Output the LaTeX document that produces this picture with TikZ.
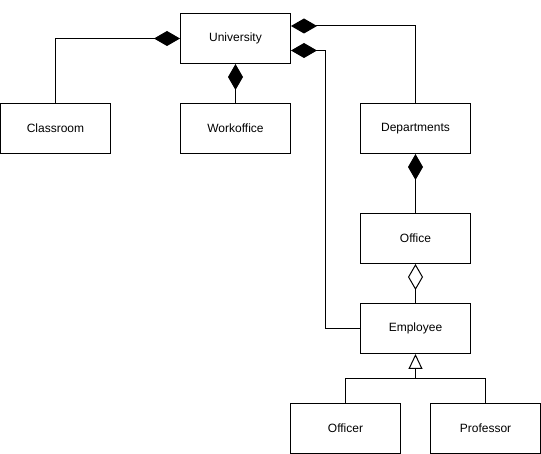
\documentclass[tikz,border=0pt]{standalone}
\usepackage{fontspec}
\setmainfont{Liberation Sans}
\usetikzlibrary{arrows.meta}

\begin{document}
\begin{tikzpicture}[x=1pt,y=-1pt,
  cls/.style={draw, line width=1pt, rectangle, minimum width=110pt, minimum height=50pt, inner sep=0pt, font=\fontsize{12}{14}\selectfont},
  link/.style={line width=1pt},
  comp/.style={link, -{Diamond[length=26pt,width=15pt]}},
  compr/.style={link, {Diamond[length=26pt,width=15pt]}-},
  aggr/.style={link, {Diamond[open,length=26pt,width=15pt,fill=white]}-},
  gen/.style={link, -{Triangle[open,length=15pt,width=14pt,fill=white]}}]
\useasboundingbox (0,0) rectangle (541,454);

\node[cls] (university) at (235.5,38.5) {University};
\node[cls] (classroom) at (55.5,128.5) {Classroom};
\node[cls] (workoffice) at (235.5,128.5) {Workoffice};
\node[cls] (departments) at (415.5,128.5) {Departments};
\node[cls] (office) at (415.5,238.5) {Office};
\node[cls] (employee) at (415.5,328.5) {Employee};
\node[cls] (officer) at (345.5,428.5) {Officer};
\node[cls] (professor) at (485.5,428.5) {Professor};

\coordinate (bend) at (325.5,50.5);
\coordinate (join) at (415.5,378.5);

\draw[comp] (classroom.north) |- (university.west);
\draw[comp] (workoffice.north) -- (university.south);
\draw[comp] (departments.north) |- ([yshift=12.5pt]university.east);
\draw[comp] (employee.west) -| (bend) -- ([yshift=-12pt]university.east);
\draw[compr] (departments.south) -- (office.north);
\draw[aggr] (office.south) -- (employee.north);

\draw[link] (officer.north) |- (join) -| (professor.north);
\draw[gen] (join) -- (employee.south);

\end{tikzpicture}
\end{document}
